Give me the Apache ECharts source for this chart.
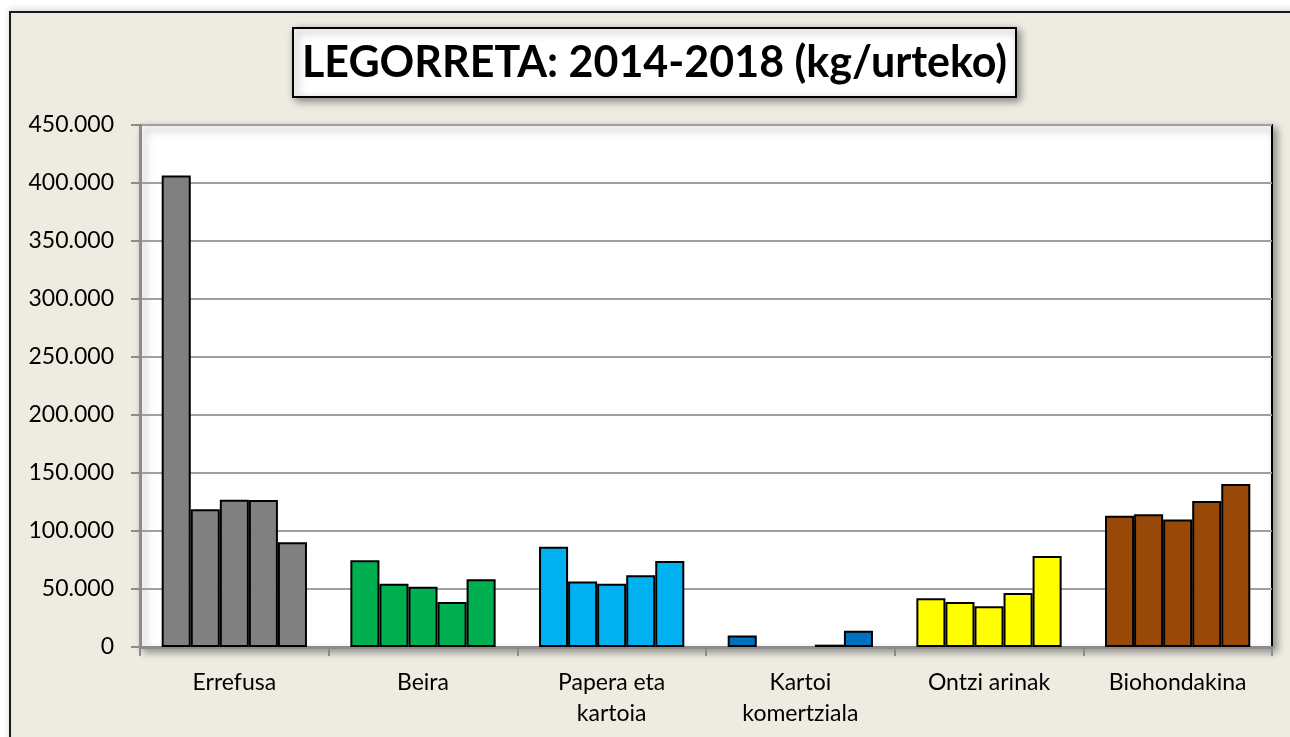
<!DOCTYPE html>
<html>
<head>
<meta charset="utf-8">
<script src="https://cdn.jsdelivr.net/npm/echarts@6/dist/echarts.min.js"></script>
<style>
  html, body { margin: 0; padding: 0; background: #fff; }
  #frame {
    position: absolute; left: 9px; top: 11px; width: 1300px; height: 740px;
    background: #EEECE1; border: 2px solid #1a1a1a;
    box-shadow: 0 -2px 6px rgba(0,0,0,0.15);
  }
  #chart { position: absolute; left: 0; top: 0; width: 1290px; height: 737px; }
</style>
</head>
<body>
<div id="frame"></div>
<div id="chart"></div>
<script>
// Kategoriak eta urteko balioak (kg)
const categories = ['Errefusa', 'Beira', 'Papera eta\nkartoia', 'Kartoi\nkomertziala', 'Ontzi arinak', 'Biohondakina']
const years = ['2014', '2015', '2016', '2017', '2018']
const y2014 = [406500, 74800, 86400, 10000, 42000, 113200]
const y2015 = [118800, 54500, 56500, null, 38700, 114500]
const y2016 = [127000, 52000, 54500, null, 35200, 110000]
const y2017 = [126700, 38800, 61800, 2000, 46500, 125800]
const y2018 = [90400, 58300, 74200, 14000, 78500, 140600]
const yTicks = [0, 50000, 100000, 150000, 200000, 250000, 300000, 350000, 400000, 450000]

const catColors = ['#808080', '#00B050', '#00B0F0', '#0070C0', '#FFFF00', '#984807']
const seriesData = [y2014, y2015, y2016, y2017, y2018]

const fmt = (v) => v === 0 ? '0' : v.toLocaleString('de-DE')

const chart = echarts.init(document.getElementById('chart'))

const option = {
  backgroundColor: 'transparent',
  animation: false,
  title: {
    text: 'LEGORRETA: 2014-2018 (kg/urteko)',
    left: 293,
    top: 28,
    padding: [9, 9, 8, 9],
    backgroundColor: '#fff',
    borderColor: '#000',
    borderWidth: 2,
    shadowColor: 'rgba(0,0,0,0.45)',
    shadowBlur: 8,
    shadowOffsetX: 3,
    shadowOffsetY: 3,
    textStyle: {
      fontFamily: 'Lato',
      fontWeight: 'bold',
      fontSize: 43,
      lineHeight: 52,
      color: '#000'
    }
  },
  grid: {
    left: 140,
    right: 18,
    top: 125,
    bottom: 90,
    show: true,
    backgroundColor: '#fff',
    borderColor: '#000',
    borderWidth: 2,
    shadowColor: 'rgba(0,0,0,0.4)',
    shadowBlur: 8,
    shadowOffsetX: 4,
    shadowOffsetY: 4
  },
  xAxis: {
    type: 'category',
    data: categories,
    axisLine: { lineStyle: { color: '#8c8c8c', width: 3 } },
    axisTick: { show: true, length: 9, lineStyle: { color: '#8c8c8c', width: 2 } },
    axisLabel: {
      margin: 20,
      color: '#000',
      fontFamily: 'Lato',
      fontSize: 23,
      lineHeight: 31
    }
  },
  yAxis: {
    type: 'value',
    min: yTicks[0],
    max: yTicks[yTicks.length - 1],
    interval: 50000,
    axisLine: { show: true, lineStyle: { color: '#8c8c8c', width: 3 } },
    axisTick: { show: true, length: 9, lineStyle: { color: '#8c8c8c', width: 2 } },
    splitLine: { lineStyle: { color: '#a0a0a0', width: 2 } },
    axisLabel: {
      margin: 26,
      color: '#000',
      fontFamily: 'Lato',
      fontSize: 23,
      formatter: fmt
    }
  },
  series: seriesData.map((d, i) => ({
    name: years[i],
    type: 'bar',
    data: d,
    barGap: '0%',
    barCategoryGap: '23%',
    itemStyle: {
      color: (p) => catColors[p.dataIndex],
      borderColor: '#000',
      borderWidth: 2
    }
  }))
}

chart.setOption(option)
window.addEventListener('resize', () => chart.resize())
</script>
</body>
</html>
